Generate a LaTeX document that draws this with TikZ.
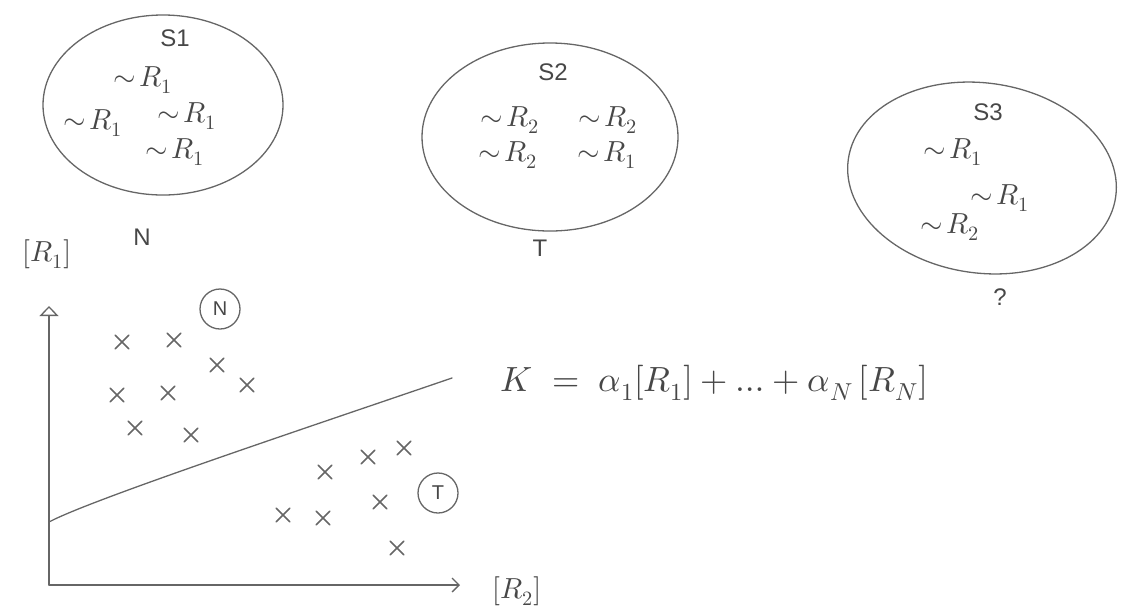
\documentclass[tikz,border=0pt]{standalone}
\usepackage{fontspec}
\usepackage{unicode-math}
\setmainfont{Liberation Sans}
\setmathfont{Latin Modern Math}
\usetikzlibrary{shapes.geometric,shapes.misc,arrows.meta}

\begin{document}
\begin{tikzpicture}[x=1pt, y=-1pt, line width=1.3pt, line cap=round, line join=round,
    pencil/.style={draw=black!60},
    blob/.style={pencil, ellipse, inner sep=0pt},
    scribble/.style={text=black!72, inner sep=0pt, font=\fontsize{29}{33}\selectfont},
    tag/.style={text=black!72, inner sep=1pt, font=\fontsize{24}{28}\selectfont},
    sample/.style={pencil, cross out, minimum size=12pt, inner sep=0pt, line width=1.5pt},
    ring/.style={pencil, circle, minimum size=40pt, inner sep=0pt, text=black!72, font=\fontsize{20}{22}\selectfont}]

  %% ==== three samples ====
  \node[blob, minimum width=240pt, minimum height=180pt] (s1) at (163,105) {};
  \node[blob, minimum width=256pt, minimum height=188pt] (s2) at (550,137) {};
  \node[blob, minimum width=270pt, minimum height=190pt, rotate=-8] (s3) at (982,178) {};

  \node[tag] (s1name) at (175,38) {S1};
  \node[scribble] (s1a) at (143,80)  {$\sim\! R_1$};
  \node[scribble] (s1b) at (93,123)  {$\sim\! R_1$};
  \node[scribble] (s1c) at (187,116) {$\sim\! R_1$};
  \node[scribble] (s1d) at (175,152) {$\sim\! R_1$};
  \node[tag] (s1tag) at (142,237) {N};

  \node[tag] (s2name) at (553,72) {S2};
  \node[scribble] (s2a) at (510,120) {$\sim\! R_2$};
  \node[scribble] (s2b) at (608,120) {$\sim\! R_2$};
  \node[scribble] (s2c) at (508,155) {$\sim\! R_2$};
  \node[scribble] (s2d) at (607,155) {$\sim\! R_1$};
  \node[tag] (s2tag) at (540,248) {T};

  \node[tag] (s3name) at (988,112) {S3};
  \node[scribble] (s3a) at (953,152)  {$\sim\! R_1$};
  \node[scribble] (s3b) at (1000,198) {$\sim\! R_1$};
  \node[scribble] (s3c) at (950,227)  {$\sim\! R_2$};
  \node[tag] (s3tag) at (1000,297) {?};

  %% ==== axes ====
  \coordinate (origin) at (49,585);
  \coordinate (ytop) at (49,306);
  \coordinate (xend) at (460,585);
  \draw[pencil, -{Triangle[open, length=10pt, width=19pt]}] (origin) -- (ytop);
  \draw[pencil, -{Straight Barb[length=7pt, width=14pt]}] (origin) -- (xend);
  \node[scribble] (ylab) at (47,254) {$[R_1]$};
  \node[scribble] (xlab) at (517,591) {$[R_2]$};

  %% ==== separating line ====
  \coordinate (lineL) at (49,522);
  \coordinate (lineR) at (452,378);
  \draw[pencil] (lineL) .. controls (90,500) and (300,430) .. (lineR);
  \node[scribble, font=\fontsize{35}{40}\selectfont, anchor=west] (rule) at (500,383)
    {$K \;=\; \alpha_1[R_1]+\ldots+\alpha_N\,[R_N]$};

  %% ==== class N points ====
  \node[ring] (nring) at (220,309) {N};
  \node[sample] (n1) at (122,342) {};
  \node[sample] (n2) at (174,340) {};
  \node[sample] (n3) at (217,365) {};
  \node[sample] (n4) at (247,385) {};
  \node[sample] (n5) at (117,395) {};
  \node[sample] (n6) at (168,393) {};
  \node[sample] (n7) at (135,428) {};
  \node[sample] (n8) at (191,435) {};

  %% ==== class T points ====
  \node[ring] (tring) at (438,493) {T};
  \node[sample] (t1) at (325,472) {};
  \node[sample] (t2) at (368,457) {};
  \node[sample] (t3) at (404,448) {};
  \node[sample] (t4) at (380,502) {};
  \node[sample] (t5) at (283,515) {};
  \node[sample] (t6) at (323,518) {};
  \node[sample] (t7) at (397,548) {};

  \pgfresetboundingbox
  \path[use as bounding box] (0,0) rectangle (1126,614);
\end{tikzpicture}
\end{document}
